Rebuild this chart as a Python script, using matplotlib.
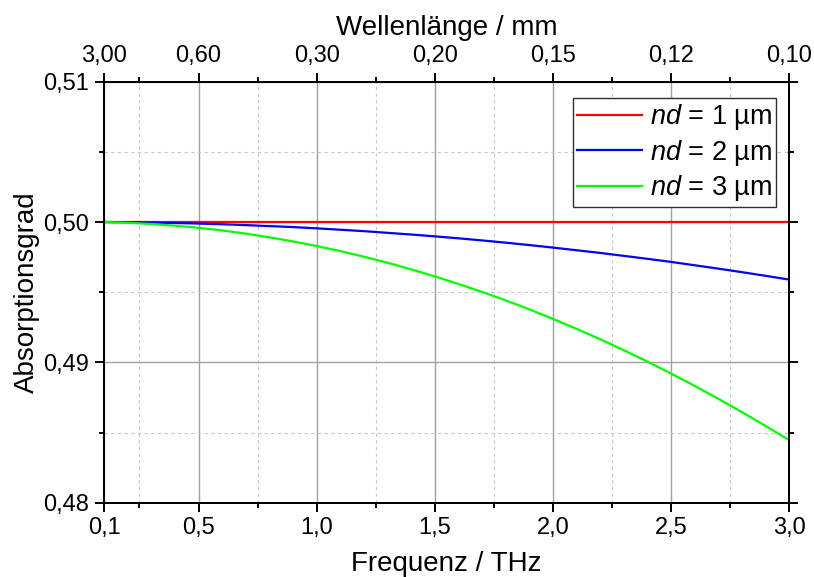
import matplotlib
matplotlib.use('Agg')
import matplotlib.pyplot as plt
from matplotlib.ticker import FixedLocator, FixedFormatter

plt.rcParams['font.family'] = ['Liberation Sans', 'DejaVu Sans']
plt.rcParams['mathtext.fontset'] = 'custom'
plt.rcParams['mathtext.rm'] = 'Liberation Sans'
plt.rcParams['mathtext.it'] = 'Liberation Sans:italic'

# Daten
frequenz = [0.1, 0.2, 0.3, 0.4, 0.5, 0.6, 0.7, 0.8, 0.9, 1.0,
            1.1, 1.2, 1.3, 1.4, 1.5, 1.6, 1.7, 1.8, 1.9, 2.0,
            2.1, 2.2, 2.3, 2.4, 2.5, 2.6, 2.7, 2.8, 2.9, 3.0]
nd1 = [0.5] * len(frequenz)
nd2 = [0.50000, 0.49999, 0.49996, 0.49993, 0.49989, 0.49984, 0.49978, 0.49971, 0.49964, 0.49955,
       0.49945, 0.49935, 0.49923, 0.49911, 0.49898, 0.49884, 0.49869, 0.49853, 0.49836, 0.49818,
       0.49799, 0.49780, 0.49759, 0.49738, 0.49716, 0.49692, 0.49668, 0.49643, 0.49617, 0.49590]
nd3 = [0.50000, 0.49995, 0.49986, 0.49974, 0.49959, 0.49940, 0.49917, 0.49891, 0.49862, 0.49829,
       0.49793, 0.49753, 0.49710, 0.49663, 0.49613, 0.49559, 0.49502, 0.49442, 0.49378, 0.49310,
       0.49239, 0.49165, 0.49087, 0.49006, 0.48921, 0.48833, 0.48741, 0.48646, 0.48548, 0.48446]

x_ticks = [0.1, 0.5, 1.0, 1.5, 2.0, 2.5, 3.0]
x_labels = ['0,1', '0,5', '1,0', '1,5', '2,0', '2,5', '3,0']
x_minor = [0.25, 0.75, 1.25, 1.75, 2.25, 2.75]
wl_labels = ['3,00', '0,60', '0,30', '0,20', '0,15', '0,12', '0,10']
y_ticks = [0.48, 0.49, 0.50, 0.51]
y_labels = ['0,48', '0,49', '0,50', '0,51']
y_minor = [0.485, 0.495, 0.505]

fig = plt.figure(figsize=(8.14, 5.77), dpi=100)
ax = fig.add_axes([0.1278, 0.1288, 0.8415, 0.7296])

ax.plot(frequenz, nd1, color='#ff0000', lw=1.6, label=r'$nd$ = 1 µm', zorder=3)
ax.plot(frequenz, nd2, color='#0000ff', lw=1.6, label=r'$nd$ = 2 µm', zorder=3)
ax.plot(frequenz, nd3, color='#00ff00', lw=1.6, label=r'$nd$ = 3 µm', zorder=3)

ax.set_xlim(0.1, 3.0)
ax.set_ylim(0.48, 0.51)
ax.xaxis.set_major_locator(FixedLocator(x_ticks))
ax.xaxis.set_major_formatter(FixedFormatter(x_labels))
ax.xaxis.set_minor_locator(FixedLocator(x_minor))
ax.yaxis.set_major_locator(FixedLocator(y_ticks))
ax.yaxis.set_major_formatter(FixedFormatter(y_labels))
ax.yaxis.set_minor_locator(FixedLocator(y_minor))

ax.grid(which='major', color='#a0a0a0', lw=1.0, ls='-')
ax.grid(which='minor', color='#c8c8c8', lw=0.8, ls=(0, (3, 3)))
ax.set_axisbelow(True)

for s in ax.spines.values():
    s.set_linewidth(1.4)

ax.tick_params(which='both', direction='out', width=1.4, labelsize=17,
               right=True, top=False, pad=4)
ax.tick_params(which='major', length=6.5)
ax.tick_params(which='minor', length=3.5)

ax.set_xlabel('Frequenz / THz', fontsize=20, va='baseline')
ax.xaxis.set_label_coords(0.5, -0.162)
ax.set_ylabel('Absorptionsgrad', fontsize=20, va='center')
ax.yaxis.set_label_coords(-0.113, 0.5)

# obere Achse: Wellenlänge
ax2 = ax.twiny()
ax2.set_xlim(ax.get_xlim())
ax2.xaxis.set_major_locator(FixedLocator(x_ticks))
ax2.xaxis.set_major_formatter(FixedFormatter(wl_labels))
ax2.xaxis.set_minor_locator(FixedLocator(x_minor))
ax2.tick_params(which='both', direction='out', width=1.4, labelsize=17, pad=4)
ax2.tick_params(which='major', length=6.5)
ax2.tick_params(which='minor', length=3.5)
for s in ax2.spines.values():
    s.set_linewidth(1.4)
ax2.set_xlabel('Wellenlänge / mm', fontsize=20, va='baseline')
ax2.xaxis.set_label_coords(0.5, 1.112)

leg = ax.legend(loc='upper right', fontsize=19.5, fancybox=False, framealpha=1,
                edgecolor='#303030', handlelength=2.4, handletextpad=0.3,
                borderpad=0.15, borderaxespad=0, labelspacing=0.2,
                bbox_to_anchor=(0.981, 0.961))
leg.get_frame().set_linewidth(1.0)
leg.set_zorder(5)

fig.savefig('out.png', dpi=100)
